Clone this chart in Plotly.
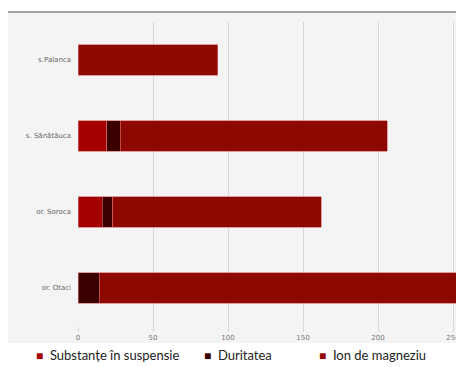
import plotly.graph_objects as go

# Locations (bottom to top as drawn on the category axis)
locations = ["or. Otaci", "or. Soroca", "s. Sănătăuca", "s.Palanca"]

# Indicator values per location
substante_suspensie = [0, 16, 19, 0]
duritatea = [14, 7, 9, 0]
ion_magneziu = [246, 139, 178, 93]

series_names = ["Substanțe în suspensie", "Duritatea", "Ion de magneziu"]
series_colors = ["#a40000", "#3a0000", "#8c0800"]

x_ticks = [0, 50, 100, 150, 200, 250]

fig = go.Figure()
for name, vals, col in zip(series_names,
                           [substante_suspensie, duritatea, ion_magneziu],
                           series_colors):
    fig.add_trace(go.Bar(
        y=locations, x=vals, name=name, orientation="h",
        marker=dict(color=col, line=dict(color="rgba(215,110,110,0.8)", width=0.8)),
        showlegend=False,
    ))

# Light gray chart panel and top rule
fig.add_shape(type="rect", xref="paper", yref="paper",
              x0=-70/378, x1=1.02, y0=-17/304, y1=1 + 10/304,
              fillcolor="#f4f4f4", line=dict(width=0), layer="below")
fig.add_shape(type="line", xref="paper", yref="paper",
              x0=-70/378, x1=1.02, y0=1 + 10/304, y1=1 + 10/304,
              line=dict(color="#a6a6a6", width=2))

# Legend built from the series names and colours
legend_x = [34, 202, 317]
for name, col, lx in zip(series_names, series_colors, legend_x):
    fig.add_annotation(
        xref="paper", yref="paper",
        x=(lx - 78) / 378, y=-29/304, xanchor="left", yanchor="middle",
        text=f"<span style='color:{col};font-size:12px'>■</span>&nbsp;&nbsp;{name}",
        showarrow=False, font=dict(family="Lato, Open Sans, sans-serif", size=13, color="#222"),
    )

fig.update_layout(
    width=456, height=367,
    margin=dict(l=78, r=0, t=22, b=41, autoexpand=False),
    paper_bgcolor="white", plot_bgcolor="rgba(0,0,0,0)",
    barmode="stack", bargap=0.6,
    xaxis=dict(range=[0, 252], tickvals=x_ticks, showgrid=True,
               gridcolor="#d6d6d6", gridwidth=1, zeroline=False,
               ticks="outside", ticklen=5, tickcolor="#d6d6d6",
               ticklabeloverflow="allow", automargin=False,
               tickfont=dict(family="DejaVu Sans", size=7, color="#777")),
    yaxis=dict(categoryorder="array", categoryarray=locations,
               showgrid=False, zeroline=False, ticks="", automargin=False,
               tickfont=dict(family="DejaVu Sans", size=7, color="#666"),
               ticklabelstandoff=6),
)

fig.write_html("out.html")
